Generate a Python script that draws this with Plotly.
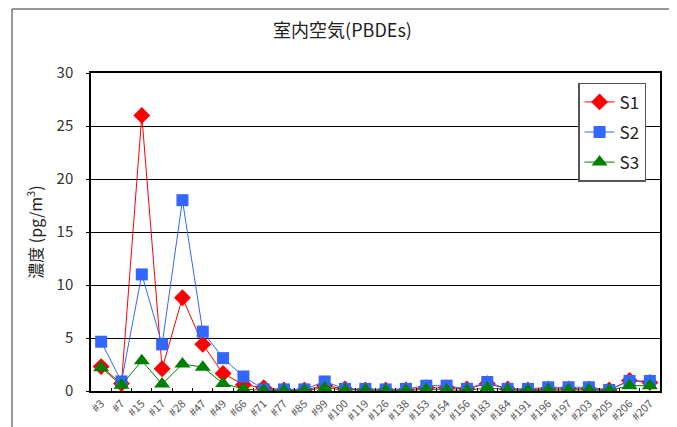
import plotly.graph_objects as go

categories = ["#3", "#7", "#15", "#17", "#28", "#47", "#49", "#66", "#71", "#77",
              "#85", "#99", "#100", "#119", "#126", "#138", "#153", "#154", "#156", "#183",
              "#184", "#191", "#196", "#197", "#203", "#205", "#206", "#207"]

s1 = [2.3, 0.7, 26.0, 2.1, 8.8, 4.4, 1.65, 0.6, 0.3, 0.1,
      0.1, 0.5, 0.2, 0.1, 0.1, 0.1, 0.3, 0.3, 0.2, 0.7,
      0.2, 0.1, 0.2, 0.2, 0.2, 0.1, 1.0, 0.8]
s2 = [4.65, 0.9, 11.0, 4.4, 18.0, 5.6, 3.1, 1.37, 0.15, 0.15,
      0.15, 0.9, 0.2, 0.2, 0.15, 0.2, 0.5, 0.5, 0.2, 0.85,
      0.2, 0.2, 0.35, 0.35, 0.35, 0.1, 0.95, 0.95]
s3 = [2.2, 0.55, 2.85, 0.65, 2.55, 2.25, 0.7, 0.2, 0.05, 0.05,
      0.05, 0.3, 0.1, 0.1, 0.05, 0.05, 0.15, 0.1, 0.05, 0.3,
      0.1, 0.05, 0.1, 0.1, 0.1, 0.05, 0.5, 0.5]

yticks = [0, 5, 10, 15, 20, 25, 30]

FONT = "Noto Sans CJK JP"

fig = go.Figure()
fig.add_trace(go.Scatter(x=categories, y=s1, name="S1", mode="lines+markers", legendgroup="a",
                         line=dict(color="#FF0000", width=1),
                         marker=dict(symbol="diamond", size=13, color="#FF0000")))
fig.add_trace(go.Scatter(x=categories, y=s2, name="S2", mode="lines+markers", legendgroup="b",
                         line=dict(color="#3366FF", width=1),
                         marker=dict(symbol="square", size=12, color="#3366FF")))
fig.add_trace(go.Scatter(x=categories, y=s3, name="S3", mode="lines+markers", legendgroup="c",
                         line=dict(color="#008000", width=1),
                         marker=dict(symbol="triangle-up", size=14, color="#008000")))

fig.update_layout(
    width=669, height=419,
    margin=dict(l=83, r=17, t=65, b=36, autoexpand=False),
    paper_bgcolor="white", plot_bgcolor="white",
    font=dict(family=FONT, color="#333333"),
    title=dict(text="室内空気(PBDEs)", x=0.5, xanchor="center", y=0.945, yanchor="middle",
               font=dict(size=18, color="#222222", family=FONT)),
    showlegend=True,
    legend=dict(x=0.856, y=0.969, xanchor="left", yanchor="top",
                bgcolor="white", bordercolor="#555555", borderwidth=1.5,
                font=dict(size=17, color="#222222", family=FONT),
                traceorder="grouped", tracegroupgap=5, itemwidth=30),
    shapes=[dict(type="rect", xref="paper", yref="paper",
                 x0=(4 - 83) / 569, x1=(664 - 83) / 569,
                 y0=-0.2, y1=(383 - 1) / 318,
                 line=dict(color="#333333", width=1), fillcolor="rgba(0,0,0,0)",
                 layer="below")],
)

fig.update_xaxes(
    type="category", categoryorder="array", categoryarray=categories,
    tickangle=-45, tickfont=dict(size=11, color="#555555", family=FONT),
    showline=True, linecolor="black", linewidth=1.5, mirror=True,
    ticks="inside", ticklen=3, tickcolor="black", tickson="boundaries",
    showgrid=False, range=[-0.5, len(categories) - 0.5], automargin=False,
)
fig.update_yaxes(
    range=[0, 30], tickvals=yticks, ticktext=[str(v) for v in yticks],
    tickfont=dict(size=15, color="#333333", family=FONT),
    showline=True, linecolor="black", linewidth=1.5, mirror=True,
    ticks="outside", ticklen=3, tickcolor="black", ticklabelstandoff=10,
    showgrid=True, gridcolor="black", gridwidth=1, zeroline=False, automargin=False,
    title=dict(text="濃度 (pg/m<sup>3</sup>)", font=dict(size=16, color="#222222", family=FONT),
               standoff=10),
)

fig.write_html("out.html")
